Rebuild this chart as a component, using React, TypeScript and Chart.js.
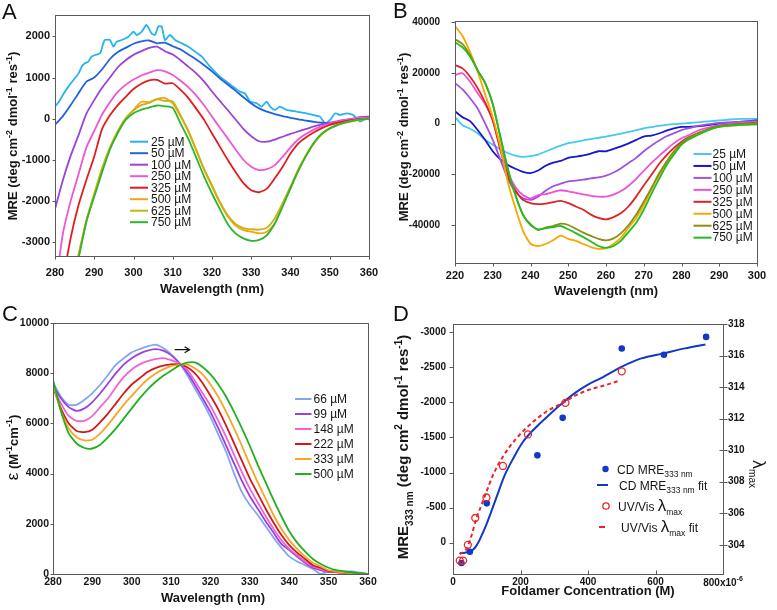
import React, { useEffect, useRef } from 'react';
import { Chart, registerables } from 'chart.js';

Chart.register(...registerables);

const FONT = '"Liberation Sans", Arial, Helvetica, sans-serif';
const INK = '#161616';
const FRAME = '#5a5a5a';

// ---------------- Panel A : CD spectra 280–360 nm ----------------
const A_WL = [280,282,284,286,288,290,292,294,296,298,300,302,304,306,308,310,312,314,316,318,320,322,324,326,328,330,332,334,336,338,340,342,344,346,348,350,352,354,356,358,360];
const A_WL_25 = [280,281,282,283.4,284.7,286,286.8,287.6,288.5,289.3,290.2,291.5,292.3,292.7,294,294.9,295.7,297,298.7,300,300.8,302.1,303.3,304.6,305.5,306.3,307.2,308,309.3,310.6,312.3,314,315.7,317.4,319.5,322,323.7,325.4,327.1,328.4,329.7,331.4,332.6,333.9,334.8,336,337.3,339,341.6,344.1,345.8,347.5,348.8,350.1,351.4,352.6,354.3,356,357.7,359.4,360];
const A_25 = [292,413,575,778,940,1100,1264,1345,1386,1507,1548,1588,1831,1912,1912,1750,1872,1912,1993,2115,2034,2115,2277,2075,2034,2237,2237,1912,2034,1912,1831,1750,1629,1507,1265,1022,900,779,657,617,413,373,292,413,292,211,292,211,171,130,90,49,-113,-32,130,90,130,90,-72,9,-30];
const A_50 = [-150,60,330,620,900,1000,1200,1450,1620,1720,1820,1880,1900,1830,1850,1760,1680,1560,1440,1300,1150,980,830,680,520,370,250,170,110,60,20,-20,-50,-80,-100,-110,-80,-40,-20,0,-10];
const A_100 = [-2200,-1500,-900,-400,120,450,750,1000,1250,1420,1550,1640,1720,1750,1640,1560,1420,1260,1100,900,660,430,210,-20,-250,-430,-550,-560,-510,-440,-370,-310,-250,-190,-140,-100,-60,-30,0,40,50];
const A_250 = [-4200,-2800,-2000,-1350,-700,-300,100,400,650,820,950,1050,1120,1180,1150,1060,920,760,560,320,50,-220,-480,-750,-1000,-1170,-1250,-1230,-1130,-930,-700,-500,-370,-260,-180,-120,-70,-30,0,30,0];
const A_325 = [-5500,-4000,-2900,-2100,-1490,-920,-250,80,330,530,720,850,930,940,850,860,700,500,240,-30,-360,-680,-1000,-1300,-1570,-1740,-1790,-1700,-1450,-1170,-850,-600,-450,-330,-230,-150,-100,-60,-30,-10,0];
const A_500 = [-6000,-5000,-4200,-3300,-2470,-1820,-1200,-700,-300,10,210,410,400,480,500,370,50,-320,-780,-1250,-1650,-2050,-2380,-2600,-2710,-2750,-2790,-2750,-2550,-2100,-1700,-1250,-900,-600,-380,-240,-160,-100,-60,-30,0];
const A_625 = [-6100,-5100,-4250,-3350,-2500,-1850,-1230,-720,-320,0,200,330,380,470,430,420,80,-300,-760,-1220,-1620,-2020,-2350,-2560,-2660,-2690,-2700,-2650,-2420,-2050,-1650,-1230,-880,-590,-370,-230,-150,-90,-50,-20,0];
const A_750 = [-6200,-5200,-4300,-3400,-2500,-1900,-1300,-750,-350,-30,130,220,270,320,300,260,-120,-500,-950,-1410,-1820,-2200,-2560,-2790,-2910,-2970,-2950,-2830,-2550,-2140,-1690,-1270,-900,-580,-360,-240,-150,-90,-50,-20,0];
const A_SERIES = [A_25, A_50, A_100, A_250, A_325, A_500, A_625, A_750];
const A_SERIES_WL = [A_WL_25, A_WL, A_WL, A_WL, A_WL, A_WL, A_WL, A_WL];
const A_NAMES = ['25 µM', '50 µM', '100 µM', '250 µM', '325 µM', '500 µM', '625 µM', '750 µM'];
const A_X_TICKS = [280, 290, 300, 310, 320, 330, 340, 350, 360];
const A_Y_TICKS = [-3000, -2000, -1000, 0, 1000, 2000];

// ---------------- Panel B : CD spectra 220–300 nm ----------------
const B_WL = [220,222,224,226,228,230,232,234,236,238,240,242,244,246,248,250,252,254,256,258,260,262,264,266,268,270,272,274,276,278,280,282,284,286,288,290,292,294,296,298,300];
const B_25 = [2560,-640,-2000,-3800,-6400,-8300,-10200,-11600,-12600,-13100,-12800,-12200,-11000,-9800,-8700,-7700,-7200,-6600,-6100,-5600,-5100,-4500,-3900,-3300,-2600,-1900,-1400,-900,-500,-200,0,250,500,750,1000,1280,1500,1800,1900,1900,1900];
const B_50 = [4900,2560,1000,-2500,-6500,-10900,-14100,-16300,-17800,-19000,-19500,-18500,-16600,-15400,-14700,-13500,-13000,-12500,-11800,-10900,-10900,-10000,-9000,-7800,-6400,-5100,-4700,-3900,-2800,-1900,-1300,-1300,-1100,-800,-400,0,300,500,800,1000,1280];
const B_100 = [16000,13500,10000,6000,0,-6400,-14100,-21800,-26900,-29500,-30100,-28800,-26500,-24700,-23700,-22800,-22500,-22100,-21600,-21200,-20500,-19300,-17600,-15500,-13500,-10900,-8700,-6800,-5000,-3800,-2560,-1800,-1000,-500,-100,260,450,600,750,900,1000];
const B_250 = [19200,19900,16500,12000,7700,1280,-9000,-19200,-25000,-28200,-29500,-28200,-27800,-27000,-26300,-26700,-27300,-27900,-28500,-28800,-28800,-28000,-26600,-24500,-21800,-18600,-15600,-12800,-10200,-7700,-5800,-4500,-3000,-2000,-1300,-640,-300,0,300,500,640];
const B_325 = [23100,21800,18500,14000,8300,1280,-10300,-20500,-26300,-30100,-31400,-31800,-31600,-31000,-30500,-31400,-32700,-34000,-35900,-37200,-37800,-36900,-35300,-32600,-28800,-24400,-20300,-16000,-12500,-9600,-7100,-5300,-4000,-2900,-1800,-1000,-600,-350,-100,100,260];
const B_500 = [38500,34600,28200,20500,11500,2560,-9000,-23100,-33300,-42300,-47400,-48300,-47500,-46000,-44200,-45500,-46300,-47500,-48700,-49400,-49100,-47500,-45000,-41000,-37200,-32100,-26000,-20500,-15500,-11500,-8300,-6000,-4500,-3000,-2000,-1300,-900,-700,-500,-400,-260];
const B_625 = [33300,31400,27000,21000,16000,7700,-5100,-17900,-28200,-35900,-39700,-42000,-41000,-40400,-39500,-40000,-41500,-43000,-44300,-45500,-46100,-45300,-43200,-40000,-35900,-30800,-25500,-19800,-15000,-10900,-7700,-5600,-4000,-2800,-1800,-1000,-700,-400,-200,0,260];
const B_750 = [32100,30100,26500,21000,16000,7700,-5100,-17900,-28200,-35900,-40000,-41700,-41300,-40800,-40400,-41700,-43200,-44800,-46500,-48300,-49000,-48300,-46200,-42700,-39100,-34000,-27800,-22000,-16500,-12200,-8300,-6200,-4700,-3300,-2100,-1300,-900,-640,-450,-350,-260];
const B_SERIES = [B_25, B_50, B_100, B_250, B_325, B_500, B_625, B_750];
const B_NAMES = ['25 µM', '50 µM', '100 µM', '250 µM', '325 µM', '500 µM', '625 µM', '750 µM'];
const B_X_TICKS = [220, 230, 240, 250, 260, 270, 280, 290, 300];
const B_Y_TICKS = [-40000, -20000, 0, 20000, 40000];

// ---------------- Panel C : UV/Vis spectra ----------------
const C_WL = [280,282,284,286,288,290,292,294,296,298,300,302,304,306,308,310,312,314,316,318,320,322,324,326,328,330,332,334,336,338,340,342,344,346,348,350,352,354,356,358,360];
const C_66 = [7630,7070,6740,6740,6940,7210,7540,7940,8340,8600,8830,8960,9070,9140,9000,8750,8420,7950,7400,6850,6250,5550,4850,4000,3250,2750,2350,1900,1450,1050,700,500,350,200,0,100,100,100,100,50,0];
const C_99 = [7500,7000,6650,6500,6600,6850,7200,7600,8000,8350,8600,8780,8900,8960,8900,8720,8420,8050,7550,7000,6450,5800,5100,4400,3700,3100,2600,2100,1650,1200,950,700,450,250,150,80,80,80,60,30,0];
const C_148 = [7450,6800,6300,6100,6100,6300,6650,7000,7450,7850,8150,8350,8480,8560,8600,8520,8400,8150,7700,7200,6700,6100,5450,4750,4050,3400,2850,2300,1800,1350,1000,750,500,300,200,100,70,50,30,10,0];
const C_222 = [7450,6600,6000,5700,5650,5750,6050,6400,6800,7200,7550,7800,8050,8200,8300,8350,8350,8250,8000,7600,7100,6550,5900,5200,4500,3800,3200,2600,2050,1550,1150,850,600,350,250,120,80,50,30,10,0];
const C_333 = [7550,6500,5800,5450,5320,5350,5600,5950,6350,6750,7100,7450,7750,7980,8150,8280,8330,8350,8200,7950,7550,7050,6450,5800,5100,4350,3650,3000,2350,1800,1350,1000,700,450,300,150,100,60,30,10,0];
const C_500 = [7750,6500,5600,5200,5020,5000,5150,5450,5800,6200,6600,7000,7350,7650,7900,8100,8300,8420,8430,8250,7950,7550,7050,6450,5800,5100,4350,3650,2950,2300,1700,1250,900,600,400,250,150,100,60,20,0];
const C_SERIES = [C_66, C_99, C_148, C_222, C_333, C_500];
const C_NAMES = ['66 µM', '99 µM', '148 µM', '222 µM', '333 µM', '500 µM'];
const C_X_TICKS = [280, 290, 300, 310, 320, 330, 340, 350, 360];
const C_Y_TICKS = [0, 2000, 4000, 6000, 8000, 10000];
const C_ARROW_X = [310.9, 314.7];
const C_ARROW_Y = 8936;

// ---------------- Panel D : titration ----------------
const D_CD_X = [25, 50, 100, 250, 325, 500, 625, 750];
const D_CD_Y = [290, 130, -560, -1245, -1780, -2770, -2680, -2935];
const D_CD_FIT_X = [20, 35, 50, 60, 70, 80, 89, 100, 109, 129, 153, 178, 207, 247, 287, 326, 366, 400, 440, 499, 558, 623, 687, 748];
const D_CD_FIT_Y = [150, 145, 125, 100, 40, -50, -147, -270, -386, -648, -958, -1197, -1435, -1650, -1831, -1998, -2150, -2255, -2351, -2508, -2628, -2700, -2771, -2828];
const D_UV_X = [20, 30, 44, 66, 99, 148, 222, 333, 500];
const D_UV_Y = [303.0, 303.0, 304.0, 305.7, 307.0, 309.0, 311.0, 313.0, 315.0];
const D_UV_FIT_X = [20, 40, 55, 69, 84, 99, 118, 148, 188, 227, 277, 326, 366, 405, 440, 492];
const D_UV_FIT_Y = [303.4, 303.75, 304.6, 305.65, 306.5, 307.35, 308.4, 309.6, 310.75, 311.6, 312.45, 313.0, 313.5, 313.85, 314.05, 314.4];
const D_X_TICKS = [0, 200, 400, 600, 800];
const D_Y_TICKS = [-3000, -2500, -2000, -1500, -1000, -500, 0];
const D_Y2_TICKS = [304, 306, 308, 310, 312, 314, 316, 318];

// ---------------- styles ----------------
const CD_COLORS_A = ['#27b4ec', '#2262dc', '#9b42d8', '#ee56d6', '#e21c1c', '#f4a21c', '#c6b412', '#2db52d'];
const CD_COLORS_B = ['#45c9f0', '#1616cf', '#a052e0', '#f052d6', '#e02222', '#f5a800', '#8c8c16', '#22bb22'];
const UV_COLORS = ['#80a8f0', '#9b40e0', '#f062d6', '#d01a1a', '#f5a626', '#22b022'];
const D_BLUE = '#1238c8';
const D_RED = '#e8262a';

type Seg = { t: string; size: number; bold?: boolean; dy?: number };
const fontOf = (s: Seg) => `${s.bold ? 'bold ' : ''}${s.size}px ${FONT}`;
const B = (t: string, size: number): Seg => ({ t, size, bold: true });
const N = (t: string, size: number, dy = 0): Seg => ({ t, size, dy });
const SUP = (t: string, size: number, bold = true): Seg => ({ t, size, bold, dy: -size * 0.6 });
const SUB = (t: string, size: number, bold = true): Seg => ({ t, size, bold, dy: size * 0.45 });

function drawRich(ctx: CanvasRenderingContext2D, segs: Seg[], x: number, y: number, rot = 0, align: 'left' | 'center' = 'center', color = INK) {
  ctx.save();
  ctx.translate(x, y);
  if (rot) ctx.rotate(rot);
  ctx.fillStyle = color;
  ctx.textAlign = 'left';
  ctx.textBaseline = 'alphabetic';
  const widths = segs.map((s) => { ctx.font = fontOf(s); return ctx.measureText(s.t).width; });
  const total = widths.reduce((a, b) => a + b, 0);
  let cx = align === 'center' ? -total / 2 : 0;
  segs.forEach((s, i) => { ctx.font = fontOf(s); ctx.fillText(s.t, cx, s.dy || 0); cx += widths[i]; });
  ctx.restore();
}

function drawFrame(chart: any) {
  const a = chart.chartArea; const ctx = chart.ctx;
  ctx.save();
  ctx.strokeStyle = FRAME; ctx.lineWidth = 1;
  ctx.strokeRect(Math.round(a.left) + 0.5, Math.round(a.top) + 0.5, Math.round(a.right - a.left), Math.round(a.bottom - a.top));
  ctx.restore();
}

function drawTickMarks(chart: any, id: string, side: 'in' | 'out' | 'both', len: number) {
  const s = chart.scales[id]; const a = chart.chartArea; const ctx = chart.ctx;
  const out = side !== 'in' ? len : 0; const inn = side !== 'out' ? len : 0;
  ctx.save(); ctx.strokeStyle = FRAME; ctx.lineWidth = 1; ctx.beginPath();
  for (const t of s.ticks) {
    const p = Math.round(s.getPixelForValue(t.value)) + 0.5;
    if (s.isHorizontal()) {
      const y0 = Math.round(a.bottom) + 0.5;
      ctx.moveTo(p, y0 - inn); ctx.lineTo(p, y0 + out);
    } else if (s.position === 'right') {
      const x0 = Math.round(a.right) + 0.5;
      ctx.moveTo(x0 - inn, p); ctx.lineTo(x0 + out, p);
    } else {
      const x0 = Math.round(a.left) + 0.5;
      ctx.moveTo(x0 + inn, p); ctx.lineTo(x0 - out, p);
    }
  }
  ctx.stroke(); ctx.restore();
}

function letter(ctx: CanvasRenderingContext2D, t: string, x: number, y: number) {
  ctx.save(); ctx.fillStyle = '#111'; ctx.font = `22px ${FONT}`; ctx.textBaseline = 'alphabetic'; ctx.textAlign = 'left';
  ctx.fillText(t, x, y); ctx.restore();
}

function lineLegend(ctx: CanvasRenderingContext2D, names: string[], colors: string[], x0: number, x1: number, tx: number, y0: number, dy: number, size: number) {
  ctx.save();
  names.forEach((n, i) => {
    const y = y0 + i * dy;
    ctx.strokeStyle = colors[i]; ctx.lineWidth = 2;
    ctx.beginPath(); ctx.moveTo(x0, y); ctx.lineTo(x1, y); ctx.stroke();
    ctx.fillStyle = INK; ctx.font = `${size}px ${FONT}`; ctx.textBaseline = 'middle'; ctx.textAlign = 'left';
    ctx.fillText(n, tx, y + 0.5);
  });
  ctx.restore();
}

function axis(o: { min: number; max: number; ticks: number[]; size: number; pad: number; fit: number; horiz: boolean; position?: string; reverse?: boolean; fmt?: (v: number) => string }) {
  return {
    type: 'linear',
    position: o.position ?? (o.horiz ? 'bottom' : 'left'),
    min: o.min, max: o.max, reverse: !!o.reverse,
    grid: { display: false, drawTicks: false },
    border: { display: false },
    ticks: {
      font: { family: FONT, size: o.size, weight: 'bold' },
      color: INK, padding: o.pad, autoSkip: false, maxRotation: 0, minRotation: 0,
      callback: (v: any) => (o.fmt ? o.fmt(Number(v)) : String(v)),
    },
    afterBuildTicks: (s: any) => { s.ticks = o.ticks.map((v) => ({ value: v })); },
    afterFit: (s: any) => { if (o.horiz) s.height = o.fit; else s.width = o.fit; },
  };
}

function spectra(wls: number[][], series: number[][], colors: string[]) {
  return series.map((vals, i) => ({
    data: wls[i].map((x, j) => ({ x, y: vals[j] })),
    showLine: true, borderColor: colors[i], backgroundColor: colors[i], borderWidth: 1.8,
    pointRadius: 0, tension: 0.2, order: series.length - i,
  }));
}

function make(canvas: HTMLCanvasElement, datasets: any[], scales: any, padding: any, draw: (c: any) => void) {
  return new Chart(canvas, {
    type: 'scatter',
    data: { datasets },
    options: {
      responsive: false, animation: false, events: [],
      layout: { padding },
      plugins: { legend: { display: false }, tooltip: { enabled: false } },
      scales,
    } as any,
    plugins: [{ id: 'overlay', afterDraw: (c: any) => draw(c) }],
  } as any);
}

const cdTitle = (): Seg[] => [B('MRE (deg cm', 13), SUP('-2', 9), B(' dmol', 13), SUP('-1', 9), B(' res', 13), SUP('-1', 9), B(')', 13)];

function buildA(cv: HTMLCanvasElement) {
  return make(cv, spectra(A_SERIES_WL, A_SERIES, CD_COLORS_A), {
    x: axis({ min: 280, max: 360, ticks: A_X_TICKS, size: 11, pad: 10, fit: 44, horiz: true }),
    y: axis({ min: -3340, max: 2520, ticks: A_Y_TICKS, size: 11, pad: 5, fit: 55, horiz: false }),
  }, { left: 0, top: 15, right: 21, bottom: 0 }, (c) => {
    const ctx = c.ctx;
    drawFrame(c); drawTickMarks(c, 'x', 'out', 3); drawTickMarks(c, 'y', 'out', 3);
    letter(ctx, 'A', 2, 19);
    drawRich(ctx, cdTitle(), 17, 136, -Math.PI / 2);
    drawRich(ctx, [B('Wavelength (nm)', 13)], 212, 293);
    lineLegend(ctx, A_NAMES, CD_COLORS_A, 130, 148, 151, 141.7, 11.5, 12);
  });
}

function buildB(cv: HTMLCanvasElement) {
  const wls = B_SERIES.map(() => B_WL);
  return make(cv, spectra(wls, B_SERIES, CD_COLORS_B), {
    x: axis({ min: 220, max: 300, ticks: B_X_TICKS, size: 11, pad: 6.5, fit: 37, horiz: true }),
    y: axis({ min: -55000, max: 40500, ticks: B_Y_TICKS, size: 10, pad: 15, fit: 65, horiz: false }),
  }, { left: 0, top: 16, right: 20, bottom: 0 }, (c) => {
    const ctx = c.ctx;
    drawFrame(c); drawTickMarks(c, 'x', 'out', 3); drawTickMarks(c, 'y', 'out', 4);
    letter(ctx, 'B', 3, 18);
    drawRich(ctx, cdTitle(), 18, 137, -Math.PI / 2);
    drawRich(ctx, [B('Wavelength (nm)', 13)], 216, 295);
    lineLegend(ctx, B_NAMES, CD_COLORS_B, 303.5, 321.5, 322.5, 154, 11.95, 12);
  });
}

function buildC(cv: HTMLCanvasElement) {
  const wls = C_SERIES.map(() => C_WL);
  return make(cv, spectra(wls, C_SERIES, UV_COLORS), {
    x: axis({ min: 280, max: 360, ticks: C_X_TICKS, size: 10.5, pad: 1.5, fit: 36, horiz: true }),
    y: axis({ min: 0, max: 10000, ticks: C_Y_TICKS, size: 10.5, pad: 4, fit: 53, horiz: false }),
  }, { left: 0, top: 23, right: 22, bottom: 0 }, (c) => {
    const ctx = c.ctx;
    drawFrame(c); drawTickMarks(c, 'y', 'out', 3);
    letter(ctx, 'C', 2, 21);
    drawRich(ctx, [N('ε', 17), B(' (M', 13), SUP('-1', 9), B('cm', 13), SUP('-1', 9), B(')', 13)], 17.5, 147.5, -Math.PI / 2);
    drawRich(ctx, [B('Wavelength (nm)', 13)], 213, 302);
    lineLegend(ctx, C_NAMES, UV_COLORS, 295, 311.5, 313.5, 99, 15, 12);
    const xs = c.scales.x; const ys = c.scales.y;
    const x1 = xs.getPixelForValue(C_ARROW_X[0]); const x2 = xs.getPixelForValue(C_ARROW_X[1]);
    const y = ys.getPixelForValue(C_ARROW_Y);
    ctx.save(); ctx.strokeStyle = '#111'; ctx.lineWidth = 1.2; ctx.beginPath();
    ctx.moveTo(x1, y); ctx.lineTo(x2, y);
    ctx.moveTo(x2 - 5, y - 3); ctx.lineTo(x2, y); ctx.lineTo(x2 - 5, y + 3);
    ctx.stroke(); ctx.restore();
  });
}

function buildD(cv: HTMLCanvasElement) {
  const datasets = [
    { data: D_CD_X.map((x, i) => ({ x, y: D_CD_Y[i] })), yAxisID: 'y', pointRadius: 3.3, pointBackgroundColor: D_BLUE, pointBorderColor: D_BLUE, borderWidth: 0, showLine: false, order: 1 },
    { data: D_CD_FIT_X.map((x, i) => ({ x, y: D_CD_FIT_Y[i] })), yAxisID: 'y', pointRadius: 0, borderColor: D_BLUE, borderWidth: 2, showLine: true, cubicInterpolationMode: 'monotone', order: 3 },
    { data: D_UV_X.map((x, i) => ({ x, y: D_UV_Y[i] })), yAxisID: 'y2', pointRadius: 3.5, pointBackgroundColor: 'rgba(255,255,255,0)', pointBorderColor: D_RED, pointBorderWidth: 1.3, showLine: false, order: 0 },
    { data: D_UV_FIT_X.map((x, i) => ({ x, y: D_UV_FIT_Y[i] })), yAxisID: 'y2', pointRadius: 0, borderColor: D_RED, borderWidth: 2, borderDash: [4, 3], showLine: true, cubicInterpolationMode: 'monotone', order: 2 },
  ];
  return make(cv, datasets, {
    x: axis({ min: 0, max: 800, ticks: D_X_TICKS, size: 10, pad: 2, fit: 36, horiz: true, fmt: (v) => (v === 800 ? '' : String(v)) }),
    y: axis({ min: -3119, max: 448, ticks: D_Y_TICKS, size: 10, pad: 7, fit: 63, horiz: false, reverse: true }),
    y2: axis({ min: 302.15, max: 318, ticks: D_Y2_TICKS, size: 10, pad: 5, fit: 54, horiz: false, position: 'right' }),
  }, { left: 0, top: 24, right: 0, bottom: 0 }, (c) => {
    const ctx = c.ctx;
    drawFrame(c); drawTickMarks(c, 'x', 'in', 4); drawTickMarks(c, 'y', 'out', 4); drawTickMarks(c, 'y2', 'both', 4);
    letter(ctx, 'D', 3, 21);
    drawRich(ctx, [B('MRE', 15), SUB('333 nm', 10), B(' (deg cm', 15), SUP('2', 10), B(' dmol', 15), SUP('-1', 10), B(' res', 15), SUP('-1', 10), B(')', 15)], 18, 147, -Math.PI / 2);
    drawRich(ctx, [N('λ', 18), SUB('max', 10, false)], 363, 174, Math.PI / 2);
    drawRich(ctx, [B('Foldamer Concentration (M)', 13)], 198, 295);
    drawRich(ctx, [B('800x10', 10), SUP('-6', 7)], c.scales.x.getPixelForValue(800), 285.5);
    ctx.save();
    ctx.fillStyle = D_BLUE; ctx.beginPath(); ctx.arc(215.5, 169, 3.2, 0, Math.PI * 2); ctx.fill();
    ctx.strokeStyle = D_BLUE; ctx.lineWidth = 2; ctx.beginPath(); ctx.moveTo(207, 185); ctx.lineTo(218, 185); ctx.stroke();
    ctx.strokeStyle = D_RED; ctx.lineWidth = 1.3; ctx.beginPath(); ctx.arc(216, 206, 3.2, 0, Math.PI * 2); ctx.stroke();
    ctx.strokeStyle = D_RED; ctx.lineWidth = 2; ctx.beginPath(); ctx.moveTo(209, 227); ctx.lineTo(215, 227); ctx.stroke();
    ctx.restore();
    drawRich(ctx, [N('CD MRE', 12), N('333 nm', 8.5, 3.5)], 227, 173.5, 0, 'left');
    drawRich(ctx, [N('CD MRE', 12), N('333 nm', 8.5, 3.5), N(' fit', 12)], 229, 189.5, 0, 'left');
    drawRich(ctx, [N('UV/Vis ', 12), N('λ', 17), N('max', 8.5, 4)], 228, 210.5, 0, 'left');
    drawRich(ctx, [N('UV/Vis ', 12), N('λ', 17), N('max', 8.5, 4), N(' fit', 12)], 231, 231.5, 0, 'left');
  });
}

export default function App() {
  const rA = useRef<HTMLCanvasElement>(null);
  const rB = useRef<HTMLCanvasElement>(null);
  const rC = useRef<HTMLCanvasElement>(null);
  const rD = useRef<HTMLCanvasElement>(null);
  useEffect(() => {
    const charts = [buildA(rA.current!), buildB(rB.current!), buildC(rC.current!), buildD(rD.current!)];
    return () => charts.forEach((c) => c.destroy());
  }, []);
  const cs = (l: number, t: number, w: number, h: number): React.CSSProperties => ({ position: 'absolute', left: l, top: t, width: w, height: h });
  return (
    <div style={{ position: 'absolute', left: 0, top: 0, width: 777, height: 610, background: '#fff', overflow: 'hidden' }}>
      <canvas ref={rA} width={390} height={300} style={cs(0, 0, 390, 300)} />
      <canvas ref={rB} width={387} height={300} style={cs(390, 0, 387, 300)} />
      <canvas ref={rC} width={390} height={310} style={cs(0, 300, 390, 310)} />
      <canvas ref={rD} width={387} height={310} style={cs(390, 300, 387, 310)} />
    </div>
  );
}
